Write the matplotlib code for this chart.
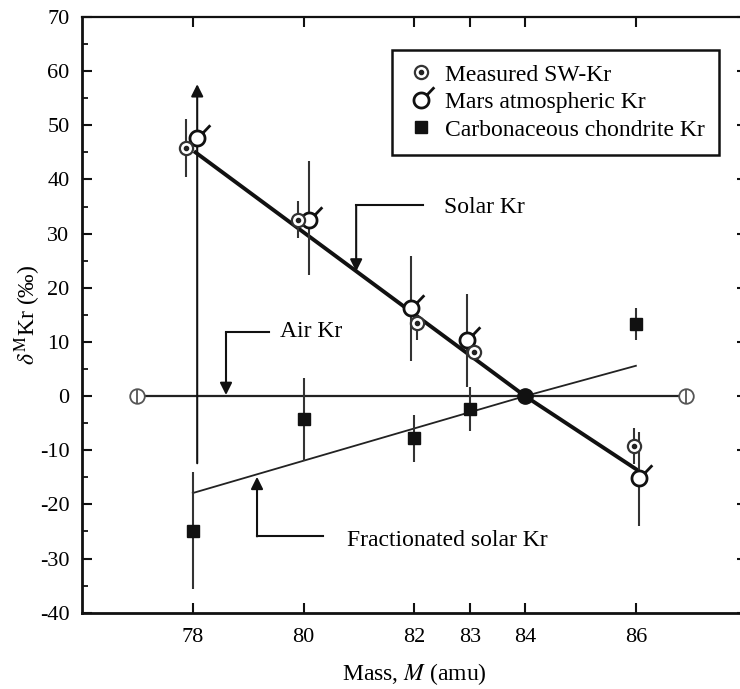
import matplotlib
matplotlib.use("Agg")
import matplotlib.pyplot as plt
import numpy as np
from matplotlib.path import Path
from matplotlib.ticker import MultipleLocator

# --- data -------------------------------------------------------------
mass = [78, 80, 82, 83, 86]

# measured solar-wind Kr (per mil) and 1-sigma errors
sw_delta = [45.8, 32.6, 13.5, 8.2, -9.2]
sw_err = [5.4, 3.4, 3.1, 1.0, 3.4]

# Mars atmospheric Kr; 78 has only a lower bound (arrow upward)
mars_delta = [47.7, 32.6, 16.2, 10.3, -15.2]
mars_lo = [-12.4, 22.4, 6.4, 1.6, -23.9]
mars_hi = [57.6, 43.4, 25.8, 18.8, -6.6]

# carbonaceous chondrite Kr
cc_delta = [-24.9, -4.3, -7.8, -2.4, 13.3]
cc_err = [10.8, 7.6, 4.4, 4.0, 3.0]

# reference lines
solar_mass = [78.05, 84, 86.02]
solar_delta = [45.0, 0.0, -13.6]
frac_mass = [78, 84, 86]
frac_delta = [-17.9, 0.0, 5.6]
air_mass = [77.0, 86.9]
air_delta = [0.0, 0.0]
norm_mass = [84]
norm_delta = [0.0]

x_ticks = [78, 80, 82, 83, 84, 86]

# small horizontal dodges so overlapping symbols stay readable
sw_dx = [-0.12, -0.1, 0.05, 0.08, -0.04]
mars_dx = [0.08, 0.1, -0.06, -0.04, 0.05]

# --- style ------------------------------------------------------------
plt.rcParams["font.family"] = ["Liberation Serif", "DejaVu Serif"]
plt.rcParams["mathtext.fontset"] = "stix"
plt.rcParams["axes.unicode_minus"] = False

fig = plt.figure(figsize=(7.4, 6.89), dpi=100)
ax = fig.add_axes([0.1108, 0.1107, 0.8982, 0.8646])

# Mars symbol: circle with a short tail to the upper right
theta = np.linspace(0, 2 * np.pi, 60)
circ = Path(np.column_stack([np.cos(theta), np.sin(theta)]), closed=True)
tail = Path([(0.7, 0.7), (1.7, 1.75)], [Path.MOVETO, Path.LINETO])
mars_marker = Path.make_compound_path(circ, tail)

ink = "#111111"
err_col = "#333333"
arrow_kw = dict(arrowstyle="-|>", color=ink, lw=1.5, mutation_scale=18,
                shrinkA=0, shrinkB=0)

ax.plot(air_mass, air_delta, color="#222222", lw=1.6, zorder=2)
ax.plot(air_mass, air_delta, ls="none", marker="o", ms=10.5, mfc="white",
        mec="#555555", mew=1.3, zorder=3)
ax.plot(air_mass, air_delta, ls="none", marker="|", ms=10, mec="#555555",
        mew=1.3, zorder=4)

ax.plot(solar_mass, solar_delta, color=ink, lw=2.8, zorder=3)
ax.plot(frac_mass, frac_delta, color="#222222", lw=1.3, zorder=3)

sw_x = np.array(mass) + np.array(sw_dx)
mars_x = np.array(mass) + np.array(mars_dx)

# error bars
ax.vlines(sw_x, np.array(sw_delta) - sw_err, np.array(sw_delta) + sw_err,
          color=err_col, lw=1.5, zorder=4)
ax.vlines(mars_x[1:], mars_lo[1:], mars_hi[1:], color=err_col, lw=1.5, zorder=4)
ax.annotate("", xy=(mars_x[0], mars_hi[0]), xytext=(mars_x[0], mars_lo[0]),
            arrowprops=arrow_kw, zorder=4)
ax.vlines(mass, np.array(cc_delta) - cc_err, np.array(cc_delta) + cc_err,
          color=err_col, lw=1.5, zorder=4)

# symbols
sw_ring, = ax.plot(sw_x, sw_delta, ls="none", marker="o", ms=9.5, mfc="white",
                   mec="#333333", mew=1.6, zorder=6)
sw_dot, = ax.plot(sw_x, sw_delta, ls="none", marker="o", ms=3, mfc="#222222",
                  mec="#222222", zorder=7)
mars_pts, = ax.plot(mars_x, mars_delta, ls="none", marker=mars_marker, ms=19,
                    mfc="white", mec=ink, mew=2.0, zorder=5)
cc_pts, = ax.plot(mass, cc_delta, ls="none", marker="s", ms=8.5, mfc=ink,
                  mec=ink, zorder=6)
ax.plot(norm_mass, norm_delta, ls="none", marker="o", ms=11, mfc=ink, mec=ink,
        zorder=8)

# callouts
fs = 17
ax.text(82.53, 34.8, "Solar Kr", fontsize=fs, va="center", ha="left")
ax.plot([82.16, 80.95], [35.2, 35.2], color=ink, lw=1.5)
ax.annotate("", xy=(80.95, 23.0), xytext=(80.95, 35.2), arrowprops=arrow_kw)

ax.text(79.57, 11.9, "Air Kr", fontsize=fs, va="center", ha="left")
ax.plot([79.38, 78.6], [11.8, 11.8], color=ink, lw=1.5)
ax.annotate("", xy=(78.6, 0.2), xytext=(78.6, 11.8), arrowprops=arrow_kw)

ax.text(80.78, -26.7, "Fractionated solar Kr", fontsize=fs, va="center",
        ha="left")
ax.plot([80.36, 79.16], [-25.9, -25.9], color=ink, lw=1.5)
ax.annotate("", xy=(79.16, -14.9), xytext=(79.16, -25.9), arrowprops=arrow_kw)

# axes
ax.set_xlim(76, 88)
ax.set_ylim(-40, 70)
ax.set_xticks(x_ticks)
ax.set_yticks(np.arange(-40, 71, 10))
ax.yaxis.set_minor_locator(MultipleLocator(5))
ax.tick_params(which="major", direction="in", length=7, width=1.5,
               labelsize=16, top=True, right=True, color=ink)
ax.tick_params(axis="x", pad=11)
ax.tick_params(axis="y", pad=9)
ax.tick_params(which="minor", direction="in", length=4.5, width=1.3,
               right=False, color=ink)
for sp in ax.spines.values():
    sp.set_linewidth(2.0)
    sp.set_color(ink)
ax.spines["top"].set_linewidth(1.6)
ax.spines["right"].set_visible(False)

ax.set_xlabel("Mass, $M$ (amu)", fontsize=fs, labelpad=10)
ax.set_ylabel(r"$\delta^{\mathrm{M}}$Kr (‰)", fontsize=fs, labelpad=-2)

leg = ax.legend([(sw_ring, sw_dot), mars_pts, cc_pts],
                ["Measured SW-Kr", "Mars atmospheric Kr",
                 "Carbonaceous chondrite Kr"],
                loc="upper left", bbox_to_anchor=(0.466, 0.9446),
                fontsize=17, frameon=True, fancybox=False, framealpha=1,
                edgecolor=ink, handlelength=1.3, handletextpad=0.35,
                borderpad=0.6, labelspacing=0.25, borderaxespad=0)
leg.get_frame().set_linewidth(1.8)

fig.savefig("out.png", dpi=100)
